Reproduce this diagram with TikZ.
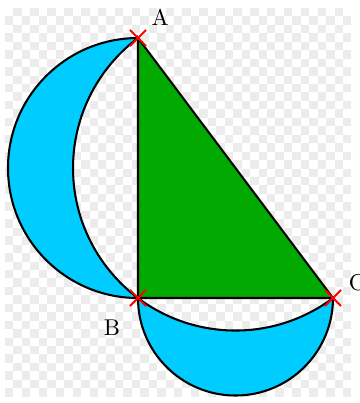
\documentclass[tikz,border=0pt]{standalone}
\usetikzlibrary{shapes.misc}
\definecolor{luneblue}{RGB}{0,204,255}
\definecolor{trigreen}{RGB}{0,170,0}
\definecolor{checkgray}{RGB}{236,236,236}
\begin{document}
\begin{tikzpicture}[line width=0.9pt,
        lune/.style={fill=luneblue,draw=black},
        vertex/.style={cross out,draw=red,line width=0.8pt,minimum size=0.22cm,inner sep=0pt},
        letter/.style={inner sep=0pt}]
        \useasboundingbox (-2.123,-1.615) rectangle (3.415,4.585);
        
        % Checker background
        \fill[white] (-2.123,-1.615) rectangle (3.415,4.585);
        \foreach \i in {0,...,40}{
            \foreach \j in {0,...,45}{
                \pgfmathtruncatemacro\k{mod(\i+\j,2)}
                \ifnum\k=1 \fill[checkgray] ({-2.046+0.13*\i},{4.462-0.13*\j}) rectangle ++(0.13,-0.13); \fi
            }
        }
        
        % Vertices
        \coordinate (A) at (0,4);
        \coordinate (B) at (0,0);
        \coordinate (C) at (3,0);
        
        % Lunes
        \filldraw[lune] (A) arc[start angle=90, end angle=270, radius=2]
            arc[start angle={180+atan(4/3)}, end angle={180-atan(4/3)}, radius=2.5] -- cycle;
        \filldraw[lune] (B) arc[start angle=180, end angle=360, radius=1.5]
            arc[start angle={-atan(4/3)}, end angle={-180+atan(4/3)}, radius=2.5] -- cycle;
        
        % Triangle
        \filldraw[fill=trigreen,draw=black] (A) -- (B) -- (C) -- cycle;
        
        % Marks and labels
        \node[vertex] (mA) at (A) {};
        \node[vertex] (mB) at (B) {};
        \node[vertex] (mC) at (C) {};
        \node[letter] (lA) at (0.34,4.32) {A};
        \node[letter] (lB) at (-0.4,-0.45) {B};
        \node[letter] (lC) at (3.37,0.23) {C};
    \end{tikzpicture}
\end{document}
